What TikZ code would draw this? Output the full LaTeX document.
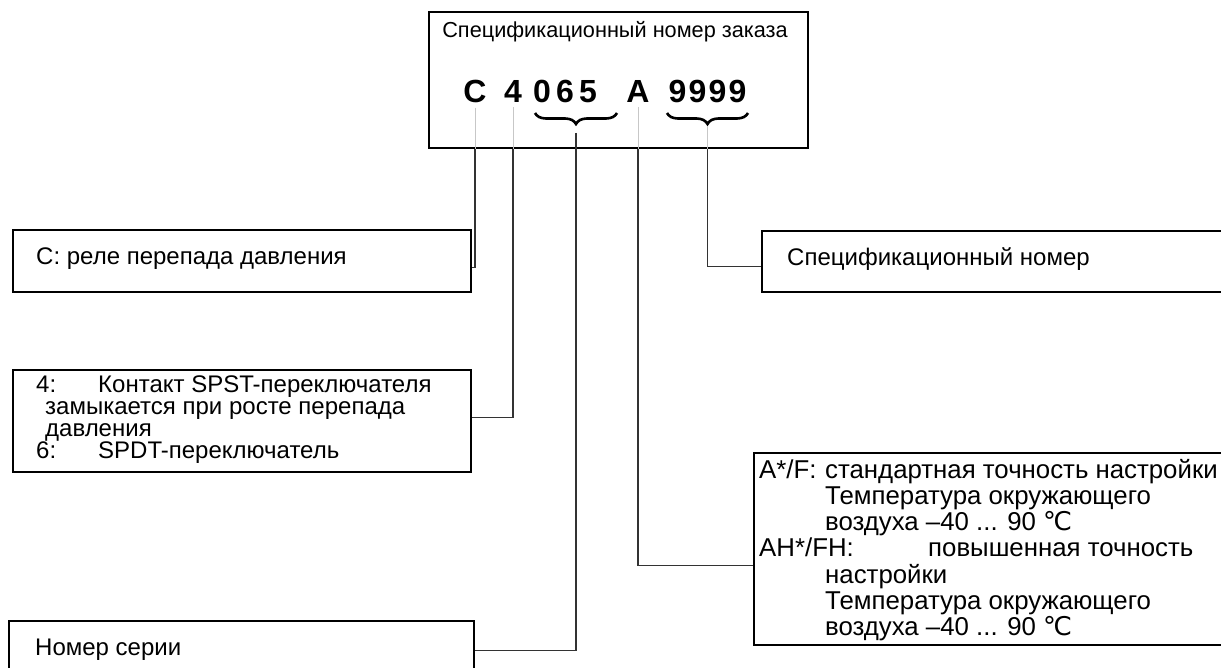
\documentclass[tikz,border=0pt]{standalone}
\usepackage{fontspec}
\setmainfont{Liberation Sans}
\newfontfamily\dejavu{DejaVu Sans}
\usetikzlibrary{decorations.pathreplacing}
\newcommand{\degC}{{\dejavu\char"2103}}
\begin{document}
\begin{tikzpicture}[x=1pt,y=-1pt,
  box/.style={draw=black,line width=1.6pt,rectangle,anchor=north west,inner sep=0pt},
  txt/.style={anchor=base west,inner sep=0pt,font=\fontsize{24}{24}\selectfont},
  atxt/.style={anchor=base west,inner sep=0pt,font=\fontsize{25.8}{25.8}\selectfont},
  ttl/.style={anchor=base,inner sep=0pt,font=\fontsize{21.7}{21.7}\selectfont},
  code/.style={anchor=base,inner sep=0pt,font=\fontsize{32}{32}\selectfont\bfseries},
  faint/.style={draw=black!22,line width=1pt},
  conn/.style={draw=black!80,line width=1.3pt},
  brc/.style={decorate,decoration={brace,mirror,amplitude=11pt},line width=2.6pt}
]
\fill[white] (0,0) rectangle (1221,668);
\clip (0,0) rectangle (1221,668);

% boxes
\node[box,minimum width=379pt,minimum height=136pt] (top) at (428,11) {};
\node[box,minimum width=458pt,minimum height=62pt] (bC) at (12,229) {};
\node[box,minimum width=470pt,minimum height=61pt] (bS) at (761,230) {};
\node[box,minimum width=458pt,minimum height=102pt] (b4) at (12,369) {};
\node[box,minimum width=480pt,minimum height=192pt] (bA) at (753,452) {};
\node[box,minimum width=465pt,minimum height=60pt] (bN) at (8,620) {};

% title and code
\node[ttl] (title) at (615,38) {Спецификационный номер заказа};
\node[code] (kC) at (475,103) {C};
\node[code] (k4) at (513,103) {4};
\node[code] (k0) at (542,103) {0};
\node[code] (k6) at (565,103) {6};
\node[code] (k5) at (588,103) {5};
\node[code] (kA) at (638,103) {A};
\node[code] (k9a) at (677.5,103) {9};
\node[code] (k9b) at (697.5,103) {9};
\node[code] (k9c) at (717.5,103) {9};
\node[code] (k9d) at (737.5,103) {9};

% braces
\coordinate (b1s) at (535,113);
\coordinate (b1e) at (617,113);
\coordinate (b2s) at (667,113);
\coordinate (b2e) at (748,113);
\draw[brc] (b1s) -- (b1e);
\draw[brc] (b2s) -- (b2e);
\coordinate (t065) at (576,133);
\coordinate (t999) at (707.5,126);

% faint lines inside the top box
\draw[faint] ([yshift=-4pt]kC.south) -- (kC.south |- top.south);
\draw[faint] ([yshift=-4pt]k4.south) -- (k4.south |- top.south);
\draw[faint] ([yshift=-4pt]kA.south) -- (kA.south |- top.south);
\draw[faint] (t999) -- (t999 |- top.south);

% connectors
\draw[conn] (kC.south |- top.south) |- ([yshift=-7pt]bC.east);
\draw[conn] (k4.south |- top.south) |- ([yshift=3pt]b4.east);
\draw[conn] (t065) |- (bN.east);
\draw[conn] (kA.south |- top.south) |- ([yshift=-17pt]bA.west);
\draw[conn] (t999 |- top.south) |- ([yshift=-5.5pt]bS.west);

% texts
\node[txt] (tC) at (36,265) {C: реле перепада давления};
\node[txt] (tS) at (787,266) {Спецификационный номер};
\node[txt] (tN) at (35,655) {Номер серии};

\node[txt] (t41) at (36,392) {4:};
\node[txt] (t42) at (98,392) {Контакт SPST-переключателя};
\node[txt] (t43) at (45,414) {замыкается при росте перепада};
\node[txt] (t44) at (45,436) {давления};
\node[txt] (t45) at (36,458) {6:};
\node[txt] (t46) at (98,458) {SPDT-переключатель};

\node[atxt] (a1) at (759,478) {A*/F:};
\node[atxt] (a2) at (825,478) {стандартная точность настройки};
\node[atxt] (a3) at (825,504.3) {Температура окружающего};
\node[atxt] (a4) at (825,530.6) {воздуха –40 ... 90 \degC};
\node[atxt] (a5) at (759,556.9) {AH*/FH:};
\node[atxt] (a6) at (928,556.9) {повышенная точность};
\node[atxt] (a7) at (825,583.2) {настройки};
\node[atxt] (a8) at (825,609.5) {Температура окружающего};
\node[atxt] (a9) at (825,635.8) {воздуха –40 ... 90 \degC};
\end{tikzpicture}
\end{document}
